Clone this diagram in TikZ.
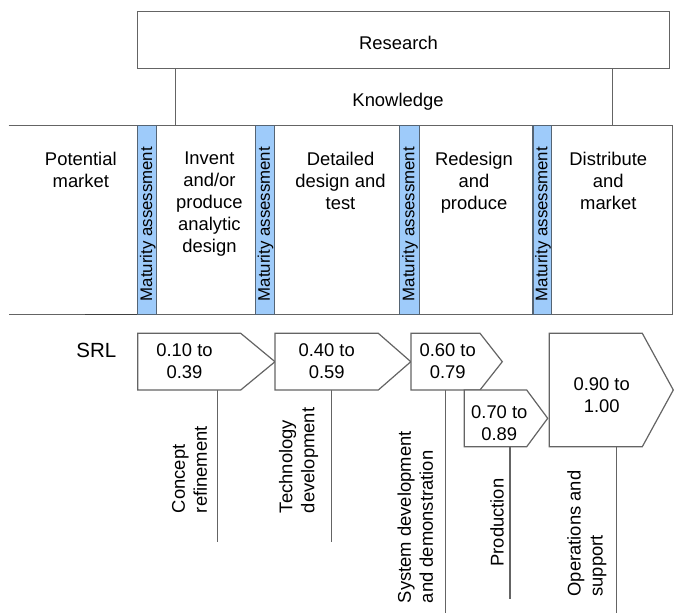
\documentclass[tikz,border=0pt]{standalone}
\usepackage{fontspec}
\setmainfont{Liberation Sans}
\definecolor{lg}{RGB}{100,100,100}
\definecolor{mblue}{RGB}{158,203,250}
\definecolor{bedge}{RGB}{85,100,115}
\begin{document}
\begin{tikzpicture}[x=1pt,y=-1pt,
  ln/.style={draw=lg, line width=1.2pt},
  arrowbox/.style={draw=lg, line width=1.2pt, fill=white, line join=miter},
  barbox/.style={draw=bedge, line width=1.1pt, fill=mblue},
  txt/.style={font=\fontsize{18.4}{22}\selectfont, inner sep=0pt, align=center},
  vtxt/.style={font=\fontsize{18.4}{22}\selectfont, inner sep=0pt, align=left, rotate=90, anchor=south west},
  mtxt/.style={font=\fontsize{16.8}{20}\selectfont, inner sep=0pt, rotate=90}]
\useasboundingbox (0,0) rectangle (674,613);
% Research and Knowledge
\draw[ln] (137.7,11.7) rectangle (669.4,68.3);
\node[txt, anchor=base] (research) at (398.5,49) {Research};
\draw[ln] (175.4,68.3) -- (175.4,125.3);
\draw[ln] (612.6,68.3) -- (612.6,125.3);
\node[txt, anchor=base] (knowledge) at (398,106) {Knowledge};
% main band
\draw[ln] (8.5,125.3) -- (672.8,125.3) -- (672.8,314.3) -- (8.5,314.3);
\draw[draw=black!75, line width=1.4pt] (85,314.3) -- (137.7,314.3);
% column texts
\node[txt, anchor=north] (pm) at (80.8,151.6) {Potential\\market};
\node[txt, anchor=north] (inv) at (209.4,151.6) {Invent\\and/or\\produce\\analytic\\design};
\node[txt, anchor=north] (det) at (340.5,151.6) {Detailed\\design and\\test};
\node[txt, anchor=north] (red) at (474,151.6) {Redesign\\and\\produce};
\node[txt, anchor=north] (dis) at (608.3,151.6) {Distribute\\and\\market};
% maturity bars
\foreach \xa/\xb/\nm in {137.7/156.9/ma1, 255.5/274.5/ma2, 399.8/419.2/ma3, 533/551.8/ma4}{
  \draw[barbox] (\xa,125.3) rectangle (\xb,314.3);
  \node[mtxt] (\nm) at ({(\xa+\xb)/2+0.6},224) {Maturity assessment};
}
% SRL
\node[font=\fontsize{20.5}{24}\selectfont, inner sep=0pt, anchor=base] (srl) at (96.3,357.3) {SRL};
% arrow shapes
\coordinate (a1b) at (217.7,390);
\coordinate (a2b) at (331.7,390);
\coordinate (a3b) at (445.3,390);
\coordinate (a4b) at (510,446.7);
\coordinate (a5b) at (616.3,446.7);
\coordinate (e1) at (217.7,541.7);
\coordinate (e2) at (331.7,541.7);
\coordinate (e3) at (445.3,613);
\coordinate (e4) at (510,599.3);
\coordinate (e5) at (616.3,613);
\draw[ln] (a1b) -- (e1);
\draw[ln] (a2b) -- (e2);
\draw[ln] (a3b) -- (e3);
\draw[ln] (a4b) -- (e4);
\draw[ln] (a5b) -- (e5);
\draw[arrowbox] (137.7,333.3) -- (240.7,333.3) -- (275,361.7) -- (240.7,390) -- (137.7,390) -- cycle;
\draw[arrowbox] (275,333.3) -- (378.3,333.3) -- (410.8,361.7) -- (378.3,390) -- (275,390) -- cycle;
\draw[arrowbox] (411,333.3) -- (480,333.3) -- (502.3,361.7) -- (480,390) -- (411,390) -- cycle;
\draw[arrowbox] (464.3,390) -- (526.7,390) -- (547.7,418.3) -- (526.7,446.7) -- (464.3,446.7) -- cycle;
\draw[arrowbox] (549.3,333.3) -- (642.3,333.3) -- (673.3,390) -- (642.3,446.7) -- (549.3,446.7) -- cycle;
\node[txt, anchor=north] (s1) at (184.5,343.8) {0.10 to\\0.39};
\node[txt, anchor=north] (s2) at (326.7,343.8) {0.40 to\\0.59};
\node[txt, anchor=north] (s3) at (447.7,343.8) {0.60 to\\0.79};
\node[txt, anchor=north] (s4) at (499.3,405.6) {0.70 to\\0.89};
\node[txt, anchor=north] (s5) at (601.7,377.4) {0.90 to\\1.00};
% phase labels
\node[vtxt] (l1) at (207.3,513.3) {Concept\\refinement};
\node[vtxt] (l2) at (318.3,513.3) {Technology\\development};
\node[vtxt] (l3) at (433.3,603.3) {System development\\and demonstration};
\node[vtxt] (l4) at (504,566.7) {Production};
\node[vtxt] (l5) at (606.7,596.7) {Operations and\\support};
\end{tikzpicture}
\end{document}
